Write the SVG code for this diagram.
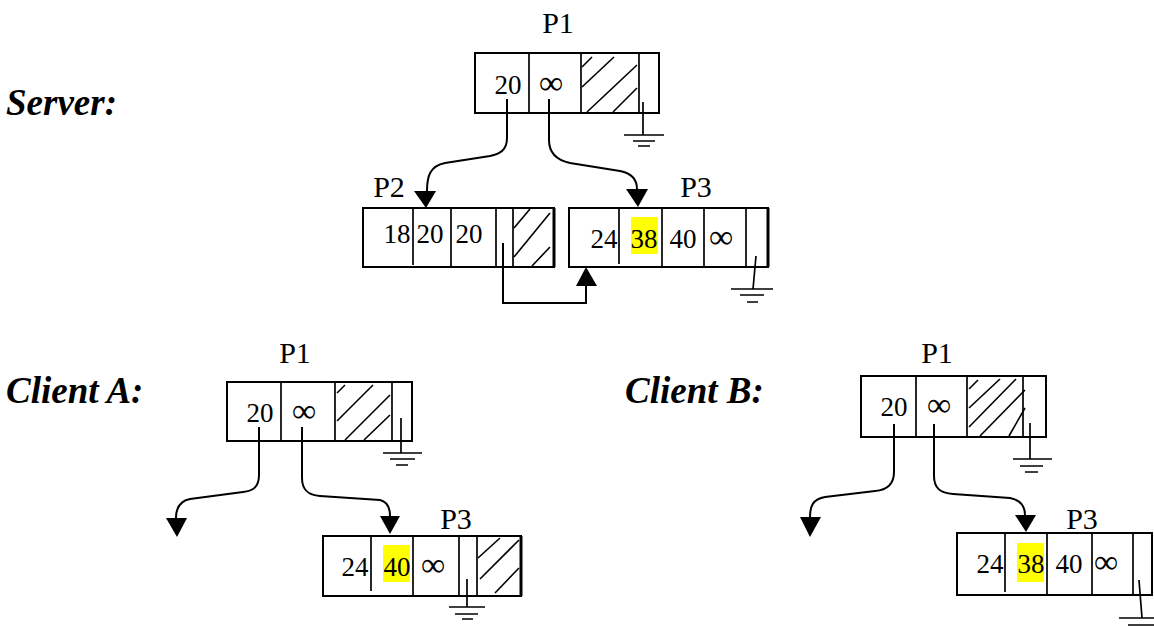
<svg xmlns="http://www.w3.org/2000/svg" width="1154" height="628" viewBox="0 0 1154 628">
<style>
.box{fill:none;stroke:#000;stroke-width:2}
.div{stroke:#000;stroke-width:1.7;fill:none}
.hatch{stroke:#000;stroke-width:1.6;fill:none}
.gnd{stroke:#000;stroke-width:1.7;fill:none}
.num{font-family:"Liberation Serif","Times New Roman",serif;font-size:27px;fill:#000;text-anchor:middle}
.inf{font-family:"Liberation Serif","Times New Roman",serif;font-size:34px;fill:#000;text-anchor:middle}
.lbl{font-family:"Liberation Serif","Times New Roman",serif;font-size:30px;fill:#000;text-anchor:middle}
.title{font-family:"Liberation Serif","Times New Roman",serif;font-size:37px;font-weight:bold;font-style:italic;fill:#000}
.hl{fill:#ffff00}
.link{stroke:#000;stroke-width:2;fill:none}
.head{fill:#000;stroke:none}
</style>

<g id="titles">
<text class="title" x="6" y="115">Server:</text>
<text class="title" x="6" y="403">Client A:</text>
<text class="title" x="625" y="403">Client B:</text>
</g>

<g id="server-P1">
<text class="lbl" x="558" y="33">P1</text>
<rect class="box" x="475" y="53" width="184" height="60"/>
<line class="div" x1="529" y1="53" x2="529" y2="113"/>
<line class="div" x1="581" y1="53" x2="581" y2="113"/>
<line class="div" x1="639" y1="53" x2="639" y2="113"/>
<line class="hatch" x1="582" y1="67" x2="592" y2="57"/>
<line class="hatch" x1="582" y1="87" x2="614" y2="57"/>
<line class="hatch" x1="587" y1="112" x2="637" y2="65"/>
<line class="hatch" x1="613" y1="112" x2="637" y2="88"/>
<text class="num" x="508" y="94">20</text>
<text class="inf" x="551" y="94">∞</text>
<path class="gnd" d="M643,102 V135 M624,135 H664 M633,141 H655 M638,146 H650"/>
</g>

<g id="server-P2">
<text class="lbl" x="389" y="197">P2</text>
<rect class="box" x="363" y="208" width="191" height="59"/>
<line class="div" x1="554" y1="208" x2="554" y2="267" style="stroke-width:3"/>
<line class="div" x1="413" y1="208" x2="413" y2="265"/>
<line class="div" x1="451" y1="208" x2="451" y2="267"/>
<line class="div" x1="496" y1="208" x2="496" y2="267"/>
<line class="div" x1="513" y1="208" x2="513" y2="267"/>
<line class="hatch" x1="514" y1="228" x2="530" y2="209"/>
<line class="hatch" x1="514" y1="257" x2="550" y2="213"/>
<line class="hatch" x1="532" y1="266" x2="550" y2="247"/>
<text class="num" x="397" y="243">18</text>
<text class="num" x="430" y="243">20</text>
<text class="num" x="469" y="243">20</text>
</g>

<g id="server-P3">
<text class="lbl" x="696" y="197">P3</text>
<rect class="hl" x="631" y="217" width="27" height="37"/>
<rect class="box" x="569" y="208" width="199" height="59"/>
<line class="div" x1="768" y1="208" x2="768" y2="267" style="stroke-width:3"/>
<line class="div" x1="619" y1="208" x2="619" y2="264"/>
<line class="div" x1="662" y1="208" x2="662" y2="267"/>
<line class="div" x1="704" y1="208" x2="704" y2="267"/>
<line class="div" x1="746" y1="208" x2="746" y2="267"/>
<text class="num" x="604" y="248">24</text>
<text class="num" x="644" y="248">38</text>
<text class="num" x="683" y="248">40</text>
<text class="inf" x="721" y="248">∞</text>
<path class="gnd" d="M756,256 L753,289 M731,289 H773 M740,295 H764 M747,302 H758"/>
</g>

<g id="clientA-P1">
<text class="lbl" x="295" y="363">P1</text>
<rect class="box" x="227" y="382" width="185" height="59"/>
<line class="div" x1="281" y1="382" x2="281" y2="441"/>
<line class="div" x1="335" y1="382" x2="335" y2="441"/>
<line class="div" x1="392" y1="382" x2="392" y2="441"/>
<line class="hatch" x1="337" y1="393" x2="345" y2="385"/>
<line class="hatch" x1="337" y1="421" x2="373" y2="385"/>
<line class="hatch" x1="345" y1="440" x2="390" y2="395"/>
<line class="hatch" x1="364" y1="440" x2="390" y2="415"/>
<text class="num" x="260" y="422">20</text>
<text class="inf" x="304" y="422">∞</text>
<path class="gnd" d="M401,418 V453 M383,453 H422 M390,459 H415 M396,465 H408"/>
</g>

<g id="clientA-P3">
<text class="lbl" x="456" y="529">P3</text>
<rect class="hl" x="383" y="545" width="27" height="37"/>
<rect class="box" x="323" y="536" width="198" height="60"/>
<line class="div" x1="521" y1="536" x2="521" y2="596" style="stroke-width:3"/>
<line class="div" x1="371" y1="536" x2="371" y2="591"/>
<line class="div" x1="413" y1="536" x2="413" y2="596"/>
<line class="div" x1="459" y1="536" x2="459" y2="596"/>
<line class="div" x1="477" y1="536" x2="477" y2="596"/>
<line class="hatch" x1="478" y1="558" x2="500" y2="538"/>
<line class="hatch" x1="480" y1="579" x2="519" y2="540"/>
<line class="hatch" x1="495" y1="593" x2="519" y2="568"/>
<text class="num" x="355" y="576">24</text>
<text class="num" x="397" y="576">40</text>
<text class="inf" x="433" y="576">∞</text>
<path class="gnd" d="M467,579 V607 M449,607 H485 M455,614 H478 M462,619 H473"/>
</g>

<g id="clientB-P1">
<text class="lbl" x="937" y="363">P1</text>
<rect class="box" x="861" y="376" width="185" height="61"/>
<line class="div" x1="916" y1="376" x2="916" y2="437"/>
<line class="div" x1="967" y1="376" x2="967" y2="437"/>
<line class="div" x1="1023" y1="376" x2="1023" y2="437"/>
<line class="hatch" x1="969" y1="389" x2="978" y2="380"/>
<line class="hatch" x1="969" y1="408" x2="1000" y2="379"/>
<line class="hatch" x1="969" y1="427" x2="1016" y2="379"/>
<line class="hatch" x1="980" y1="436" x2="1025" y2="390"/>
<line class="hatch" x1="1009" y1="436" x2="1025" y2="408"/>
<text class="num" x="894" y="416">20</text>
<text class="inf" x="939" y="416">∞</text>
<path class="gnd" d="M1030,423 V459 M1013,459 H1052 M1020,466 H1043 M1025,472 H1038"/>
</g>

<g id="clientB-P3">
<text class="lbl" x="1082" y="529">P3</text>
<rect class="hl" x="1017" y="543" width="27" height="39"/>
<rect class="box" x="957" y="533" width="195" height="62"/>
<line class="div" x1="1005" y1="533" x2="1005" y2="592"/>
<line class="div" x1="1047" y1="533" x2="1047" y2="595"/>
<line class="div" x1="1092" y1="533" x2="1092" y2="595"/>
<line class="div" x1="1133" y1="533" x2="1133" y2="595"/>
<text class="num" x="990" y="573">24</text>
<text class="num" x="1031" y="573">38</text>
<text class="num" x="1069" y="573">40</text>
<text class="inf" x="1106" y="573">∞</text>
<path class="gnd" d="M1139,580 L1142,618 M1119,618 H1154 M1128,625 H1154"/>
</g>

<g id="connectors">
<path class="link" d="M507,99 V138 C507,150 500,154 490,156 L445,163 C430,166 427,176 427,191"/>
<polygon class="head" points="414,191 436,191 426,208"/>
<path class="link" d="M549,99 V140 C549,152 556,160 570,163 L620,171 C630,173 637,178 637,189"/>
<polygon class="head" points="626,189 648,189 638,207"/>
<path class="link" d="M503,243 V303 H586 V286"/>
<polygon class="head" points="576,286 597,286 586,267"/>
<path class="link" d="M259,427 V475 C259,487 253,491 243,492 L190,499 C180,501 176,508 176,518"/>
<polygon class="head" points="166,518 187,518 177,537"/>
<path class="link" d="M302,427 V478 C302,490 308,495 320,496 L380,500 C388,502 390,508 390,516"/>
<polygon class="head" points="380,516 400,516 390,534"/>
<path class="link" d="M894,424 V472 C894,484 888,490 875,491 L825,497 C813,499 810,506 810,517"/>
<polygon class="head" points="800,517 821,517 810,537"/>
<path class="link" d="M934,424 V476 C934,488 940,493 953,494 L1010,498 C1020,500 1025,505 1025,515"/>
<polygon class="head" points="1015,515 1036,515 1026,532"/>
</g>
</svg>
